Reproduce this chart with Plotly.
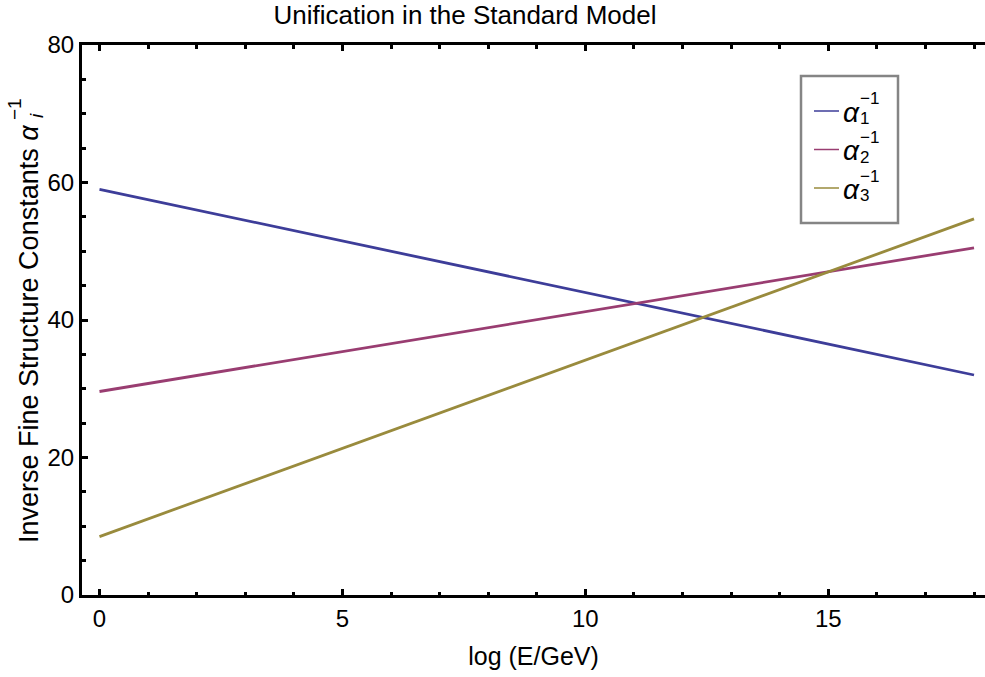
import plotly.graph_objects as go

# Running inverse couplings of the Standard Model, one straight line per gauge group
log_energy = [0, 18]
alpha1_inv = [59.0, 32.0]
alpha2_inv = [29.6, 50.5]
alpha3_inv = [8.5, 54.7]

series_names = ["1", "2", "3"]
series_values = [alpha1_inv, alpha2_inv, alpha3_inv]
series_colors = ["#3d3d99", "#993d71", "#998b3d"]

x_ticks = [0, 5, 10, 15]
y_ticks = [0, 20, 40, 60, 80]

FONT = "Liberation Sans, Arial, sans-serif"
W, H = 985, 677
L, R, T, B = 82, 985, 45, 595


def px(xp):
    return (xp - L) / (R - L)


def py(yp):
    return (B - yp) / (B - T)


fig = go.Figure()
for name, vals, col in zip(series_names, series_values, series_colors):
    fig.add_trace(go.Scatter(
        x=log_energy, y=vals, mode="lines", name=name,
        line=dict(color=col, width=2.8), showlegend=False,
    ))

axis_common = dict(
    showgrid=False, zeroline=False, showline=True, linecolor="black",
    linewidth=3, ticks="inside", tickcolor="black", tickwidth=2.5,
    ticklen=6, tickfont=dict(family=FONT, size=24, color="black"),
)

fig.update_xaxes(
    **axis_common, range=[-0.360, 18.226], tickvals=x_ticks, mirror="ticks",
    minor=dict(dtick=1, tick0=0, ticks="inside", ticklen=3.5, tickwidth=2.5,
               tickcolor="black"),
    ticklabelstandoff=0,
    title=dict(text="log (E/GeV)", font=dict(family=FONT, size=25, color="black"),
               standoff=17),
)
fig.update_yaxes(
    **axis_common, range=[0, 80], tickvals=y_ticks, mirror=False,
    minor=dict(dtick=5, tick0=0, ticks="inside", ticklen=3.5, tickwidth=2.5,
               tickcolor="black"),
    ticklabelstandoff=0,
)

annotations = []
# y-axis title, with the index and the exponent of alpha stacked
annotations.append(dict(
    text="Inverse Fine Structure Constants <i>α</i>",
    xref="paper", yref="paper", x=px(28.5), y=py(545), xanchor="center",
    yanchor="bottom", textangle=-90, showarrow=False,
    font=dict(family=FONT, size=27, color="black"),
))
annotations.append(dict(
    text="−1", xref="paper", yref="paper", x=px(15), y=py(109),
    xanchor="center", yanchor="middle", textangle=-90, showarrow=False,
    font=dict(family=FONT, size=19, color="black"),
))
annotations.append(dict(
    text="<i>i</i>", xref="paper", yref="paper", x=px(36), y=py(116),
    xanchor="center", yanchor="middle", textangle=-90, showarrow=False,
    font=dict(family=FONT, size=19, color="black"),
))

# hand-built legend: framed box, colour sample, alpha with stacked indices
shapes = [dict(type="rect", xref="paper", yref="paper",
               x0=px(801), x1=px(898), y0=py(76), y1=py(223),
               line=dict(color="#858585", width=2.5), fillcolor="white",
               layer="above")]
row_gap = 38.5
for i, (name, col) in enumerate(zip(series_names, series_colors)):
    yc = 111 + i * row_gap
    shapes.append(dict(type="line", xref="paper", yref="paper",
                       x0=px(814), x1=px(839), y0=py(yc), y1=py(yc),
                       line=dict(color=col, width=1.5), layer="above"))
    annotations.append(dict(
        text="<i>α</i>", xref="paper", yref="paper", x=px(851.5), y=py(yc + 1),
        xanchor="center", yanchor="middle", showarrow=False,
        font=dict(family=FONT, size=28, color="black"),
    ))
    annotations.append(dict(
        text="−1", xref="paper", yref="paper", x=px(858), y=py(yc - 12),
        xanchor="left", yanchor="middle", showarrow=False,
        font=dict(family=FONT, size=17, color="black"),
    ))
    annotations.append(dict(
        text=name, xref="paper", yref="paper", x=px(858), y=py(yc + 7.5),
        xanchor="left", yanchor="middle", showarrow=False,
        font=dict(family=FONT, size=17, color="black"),
    ))

fig.update_layout(
    width=W, height=H,
    margin=dict(l=L, r=W - R, t=T, b=H - B, pad=0),
    paper_bgcolor="white", plot_bgcolor="white",
    title=dict(text="Unification in the Standard Model",
               font=dict(family=FONT, size=26, color="black"),
               x=px(465), xanchor="center", xref="paper",
               y=1 - 15 / H, yanchor="middle", yref="container"),
    shapes=shapes, annotations=annotations,
)

fig.write_html("out.html")
